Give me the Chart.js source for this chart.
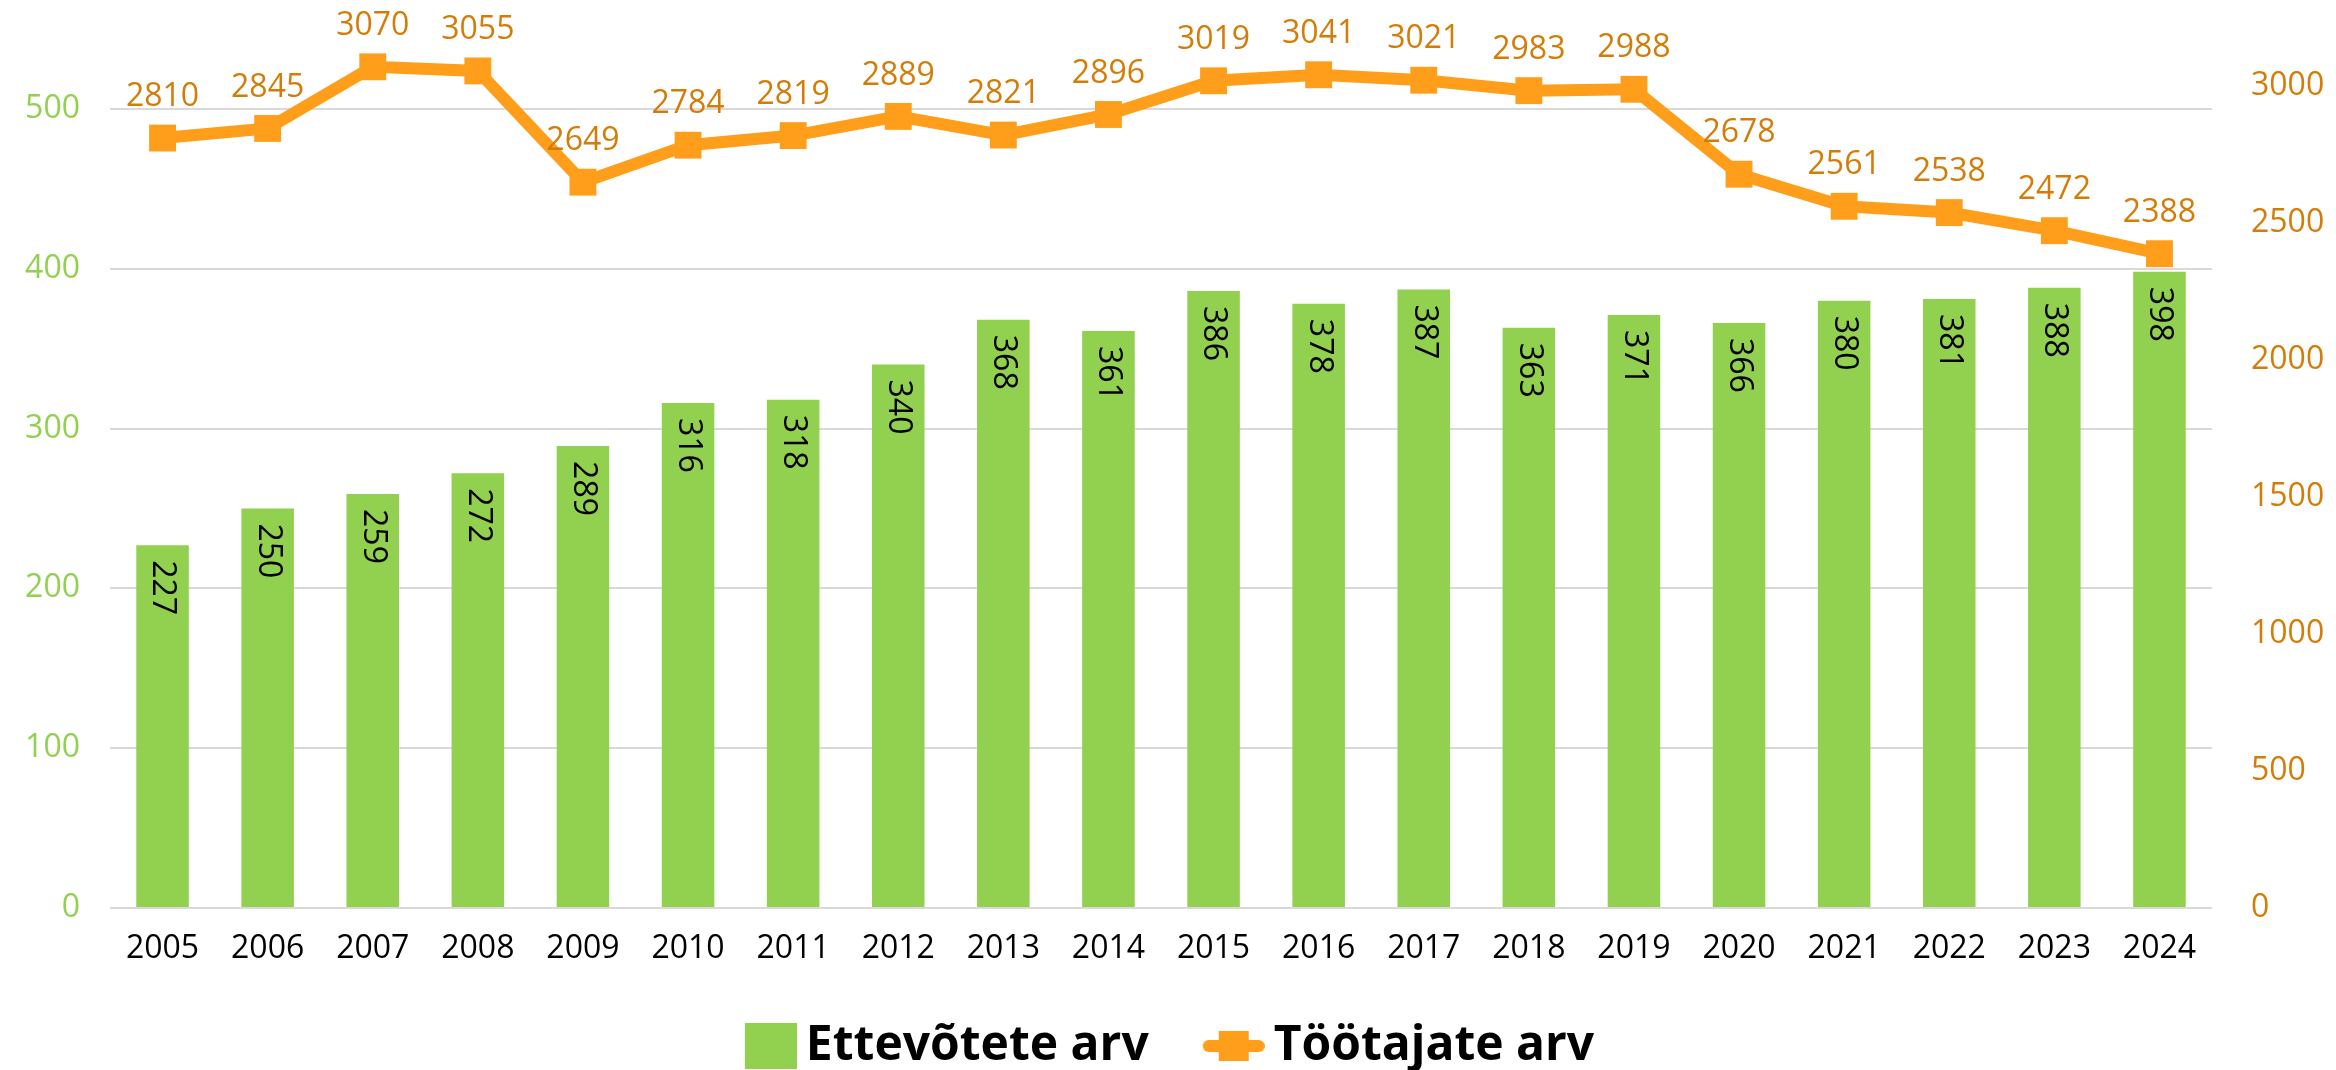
<!DOCTYPE html>
<html lang="et">
<head>
<meta charset="UTF-8">
<title>Ettevõtete ja töötajate arv</title>
<script src="https://cdn.jsdelivr.net/npm/chart.js"></script>
<style>
  html, body { margin: 0; padding: 0; background: #fff; overflow: hidden; width: 2336px; height: 1070px; }
  #chart { position: absolute; left: -20px; top: -51px; }
</style>
</head>
<body>
<canvas id="chart" width="2356" height="1131"></canvas>
<script>
const years = ['2005','2006','2007','2008','2009','2010','2011','2012','2013','2014',
               '2015','2016','2017','2018','2019','2020','2021','2022','2023','2024'];
const companies = [227, 250, 259, 272, 289, 316, 318, 340, 368, 361,
                   386, 378, 387, 363, 371, 366, 380, 381, 388, 398];
const employees = [2810, 2845, 3070, 3055, 2649, 2784, 2819, 2889, 2821, 2896,
                   3019, 3041, 3021, 2983, 2988, 2678, 2561, 2538, 2472, 2388];
const seriesNames = ['Ettevõtete arv', 'Töötajate arv'];

const GREEN = '#92d050';
const ORANGE = '#ff9e1b';
const ORANGE_TEXT = '#d47c08';
const FONT = '"Open Sans"';

// legend symbols as small canvases (content pushed to the right edge)
function greenBox() {
  const c = document.createElement('canvas');
  c.width = 90; c.height = 46;
  const g = c.getContext('2d');
  g.fillStyle = GREEN;
  g.fillRect(38, 0, 52, 46);
  return c;
}
function orangeMarker() {
  const c = document.createElement('canvas');
  c.width = 90; c.height = 46;
  const g = c.getContext('2d');
  g.strokeStyle = ORANGE;
  g.lineWidth = 12;
  g.lineCap = 'round';
  g.beginPath(); g.moveTo(34, 23); g.lineTo(84, 23); g.stroke();
  g.fillStyle = ORANGE;
  g.fillRect(59 - 15, 23 - 15, 30, 30);
  return c;
}

const valueLabels = {
  id: 'valueLabels',
  afterDatasetsDraw(chart) {
    const ctx = chart.ctx;
    ctx.save();
    ctx.font = '32px ' + FONT;
    ctx.textBaseline = 'middle';

    // bar values, rotated, inside the top of each bar
    ctx.fillStyle = '#000';
    ctx.textAlign = 'left';
    chart.getDatasetMeta(0).data.forEach((bar, i) => {
      ctx.save();
      ctx.translate(bar.x, bar.y + 15);
      ctx.rotate(Math.PI / 2);
      ctx.fillText(String(companies[i]), 0, 0);
      ctx.restore();
    });

    // line values above the markers
    ctx.fillStyle = ORANGE_TEXT;
    ctx.textAlign = 'center';
    chart.getDatasetMeta(1).data.forEach((pt, i) => {
      ctx.fillText(String(employees[i]), pt.x, pt.y - 41);
    });
    ctx.restore();
  }
};

const ctx = document.getElementById('chart').getContext('2d');
new Chart(ctx, {
  type: 'bar',
  data: {
    labels: years,
    datasets: [
      {
        type: 'bar',
        label: seriesNames[0],
        data: companies,
        backgroundColor: GREEN,
        yAxisID: 'y',
        categoryPercentage: 1,
        barPercentage: 0.5,
        order: 2
      },
      {
        type: 'line',
        label: seriesNames[1],
        data: employees,
        borderColor: ORANGE,
        backgroundColor: ORANGE,
        borderWidth: 12,
        pointStyle: 'rect',
        pointRadius: 19,
        pointBorderWidth: 0,
        tension: 0,
        yAxisID: 'y1',
        order: 1
      }
    ]
  },
  options: {
    responsive: false,
    animation: false,
    devicePixelRatio: 1,
    layout: { padding: 0, autoPadding: false },
    plugins: {
      tooltip: { enabled: false },
      legend: {
        position: 'bottom',
        labels: {
          usePointStyle: true,
          pointStyleWidth: 60,
          padding: 41,
          color: '#000',
          font: { family: FONT, size: 48, weight: 'bold' },
          generateLabels() {
            return [
              { text: seriesNames[0], pointStyle: greenBox(), datasetIndex: 0, lineWidth: 0, fontColor: '#000' },
              { text: seriesNames[1], pointStyle: orangeMarker(), datasetIndex: 1, lineWidth: 0, fontColor: '#000' }
            ];
          }
        }
      }
    },
    scales: {
      x: {
        grid: { display: false },
        border: { display: false },
        ticks: { color: '#000', font: { family: FONT, size: 32 }, padding: 14, maxRotation: 0 },
        afterFit(s) { s.height = 73; s.paddingLeft = 0; s.paddingRight = 0; }
      },
      y: {
        position: 'left',
        min: 0, max: 600,
        grid: { color: '#d9d9d9', lineWidth: 2, drawTicks: false },
        border: { display: false },
        ticks: { stepSize: 100, color: GREEN, font: { family: FONT, size: 32 }, padding: 30 },
        afterFit(s) { s.width = 130; s.paddingTop = 0; s.paddingBottom = 0; }
      },
      y1: {
        position: 'right',
        min: 0, max: 3500,
        grid: { display: false },
        border: { display: false },
        ticks: {
          stepSize: 500, color: ORANGE_TEXT, font: { family: FONT, size: 32 }, padding: 31,
          callback: v => String(v)
        },
        afterFit(s) { s.width = 124; s.paddingTop = 0; s.paddingBottom = 0; }
      }
    }
  },
  plugins: [valueLabels]
});
</script>
</body>
</html>
